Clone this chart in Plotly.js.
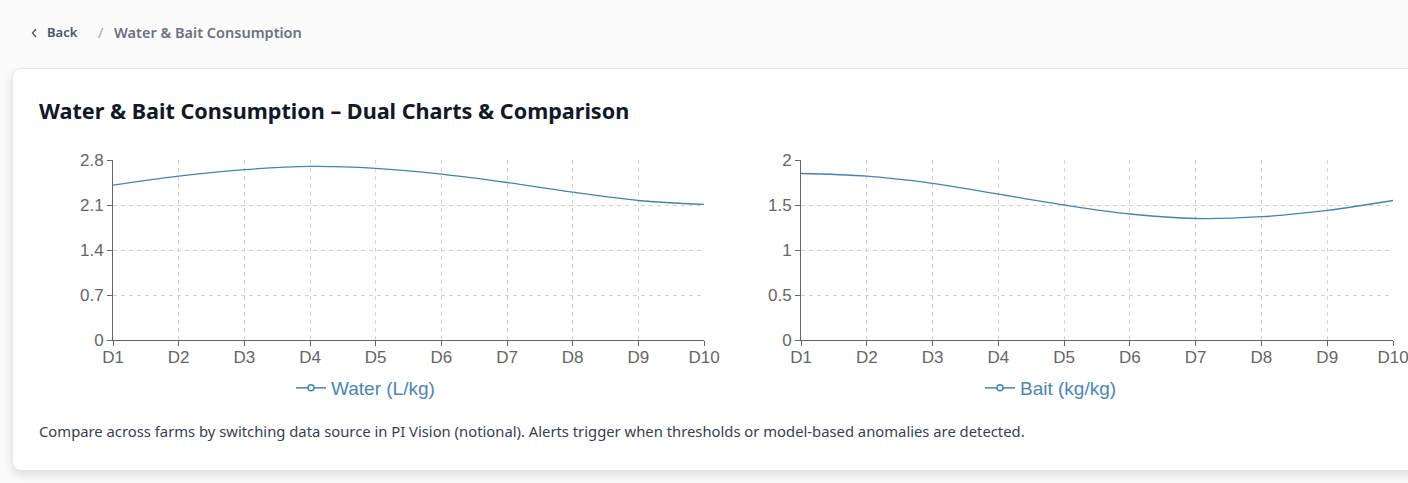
<!DOCTYPE html>
<html>
<head>
<meta charset="utf-8">
<script src="https://cdn.plot.ly/plotly-3.0.1.min.js"></script>
<style>
  html, body { margin:0; padding:0; width:1408px; height:483px; overflow:hidden; background:#fbfbfb; font-family:"Noto Sans","Open Sans",sans-serif; }
  .crumb { position:absolute; top:23px; font-size:13px; font-weight:600; color:#4b5563; white-space:nowrap; }
  .sep { color:#9ca3af; font-weight:400; }
  .page { font-size:14.5px; color:#6b7280; }
  .card { position:absolute; left:12px; top:68px; width:1430px; height:401px; background:#fff; border:1px solid #e5e7eb; border-radius:9px; box-shadow:0 4px 10px rgba(0,0,0,0.12); }
  .title { position:absolute; left:39px; top:96px; font-size:21.6px; font-weight:700; color:#111827; white-space:nowrap; }
  .note { position:absolute; left:39px; top:421px; font-size:14.8px; color:#374151; white-space:nowrap; }
  #chart { position:absolute; left:0; top:0; width:1408px; height:483px; }
</style>
</head>
<body>
<svg viewBox="0 0 7 10" style="left:31px;top:28px;width:7px;height:10px;position:absolute"><polyline points="5,1 1.5,5 5,9" fill="none" stroke="#4b5563" stroke-width="1.3"/></svg>
<div class="crumb" style="left:47px">Back</div>
<div class="crumb sep" style="left:98px;top:22px;font-size:14.5px">/</div>
<div class="crumb page" style="left:114px;top:22px">Water &amp; Bait Consumption</div>
<div class="card"></div>
<div class="title">Water &amp; Bait Consumption – Dual Charts &amp; Comparison</div>
<div class="note">Compare across farms by switching data source in PI Vision (notional). Alerts trigger when thresholds or model-based anomalies are detected.</div>
<div id="chart"></div>
<script>
const days = ['D1','D2','D3','D4','D5','D6','D7','D8','D9','D10'];
const waterValues = [2.41, 2.55, 2.65, 2.70, 2.67, 2.58, 2.45, 2.30, 2.17, 2.11];
const baitValues  = [1.85, 1.82, 1.74, 1.62, 1.50, 1.40, 1.35, 1.37, 1.44, 1.55];
const waterName = 'Water (L/kg)';
const baitName = 'Bait (kg/kg)';
const waterTicks = [0, 0.7, 1.4, 2.1, 2.8];
const baitTicks = [0, 0.5, 1, 1.5, 2];

const W = 1408, H = 483;
const lineColor = '#4682b4';
const tickFont = {family:'Liberation Sans, Arial, sans-serif', size:17, color:'#666'};

function xAxis(dom){
  return {domain:dom, type:'category', range:[0, days.length-1], showline:true, linecolor:'#666', linewidth:1,
    ticks:'outside', ticklen:5, tickcolor:'#666', tickfont:tickFont, ticklabelstandoff:-3, showgrid:true, gridcolor:'#d4d4d4',
    griddash:'4px,4px', gridwidth:1, zeroline:false, fixedrange:true};
}
function yAxis(dom, ticks, anchor){
  return {domain:dom, anchor:anchor, range:[ticks[0], ticks[ticks.length-1]], tickvals:ticks, showline:true, linecolor:'#666',
    linewidth:1, ticks:'outside', ticklen:5, tickcolor:'#666', tickfont:tickFont, showgrid:true, gridcolor:'#d4d4d4',
    griddash:'4px,4px', gridwidth:1, zeroline:false, fixedrange:true};
}

const yDom = [(H-340)/H, (H-160)/H];
const data = [
  {x:days, y:waterValues, xaxis:'x', yaxis:'y', mode:'lines', line:{color:lineColor, width:1.3, shape:'spline', smoothing:1}, showlegend:false, hoverinfo:'skip'},
  {x:days, y:baitValues, xaxis:'x2', yaxis:'y2', mode:'lines', line:{color:lineColor, width:1.3, shape:'spline', smoothing:1}, showlegend:false, hoverinfo:'skip'},
  {x:[null], y:[null], xaxis:'x', yaxis:'y', mode:'lines+markers', name:waterName, legend:'legend',
    line:{color:lineColor, width:1.5}, marker:{symbol:'circle', size:6, color:'#fff', line:{color:lineColor, width:1.5}}},
  {x:[null], y:[null], xaxis:'x2', yaxis:'y2', mode:'lines+markers', name:baitName, legend:'legend2',
    line:{color:lineColor, width:1.5}, marker:{symbol:'circle', size:6, color:'#fff', line:{color:lineColor, width:1.5}}}
];
const legFont = {family:'Liberation Sans, Arial, sans-serif', size:19, color:'#4a86b8'};
const layout = {
  width:W, height:H, margin:{l:0, r:0, t:0, b:0},
  paper_bgcolor:'rgba(0,0,0,0)', plot_bgcolor:'rgba(0,0,0,0)',
  showlegend:true,
  xaxis: xAxis([113/W, 704/W]),
  yaxis: yAxis(yDom, waterTicks, 'x'),
  xaxis2: xAxis([801/W, 1393/W]),
  yaxis2: yAxis(yDom, baitTicks, 'x2'),
  legend: {x:(331-40)/W, xanchor:'left', y:(H-388)/H, yanchor:'middle', orientation:'h', font:legFont, bgcolor:'rgba(0,0,0,0)', itemwidth:30},
  legend2: {x:(1020-40)/W, xanchor:'left', y:(H-388)/H, yanchor:'middle', orientation:'h', font:legFont, bgcolor:'rgba(0,0,0,0)', itemwidth:30}
};
Plotly.newPlot('chart', data, layout, {displayModeBar:false, staticPlot:true});
</script>
</body>
</html>
